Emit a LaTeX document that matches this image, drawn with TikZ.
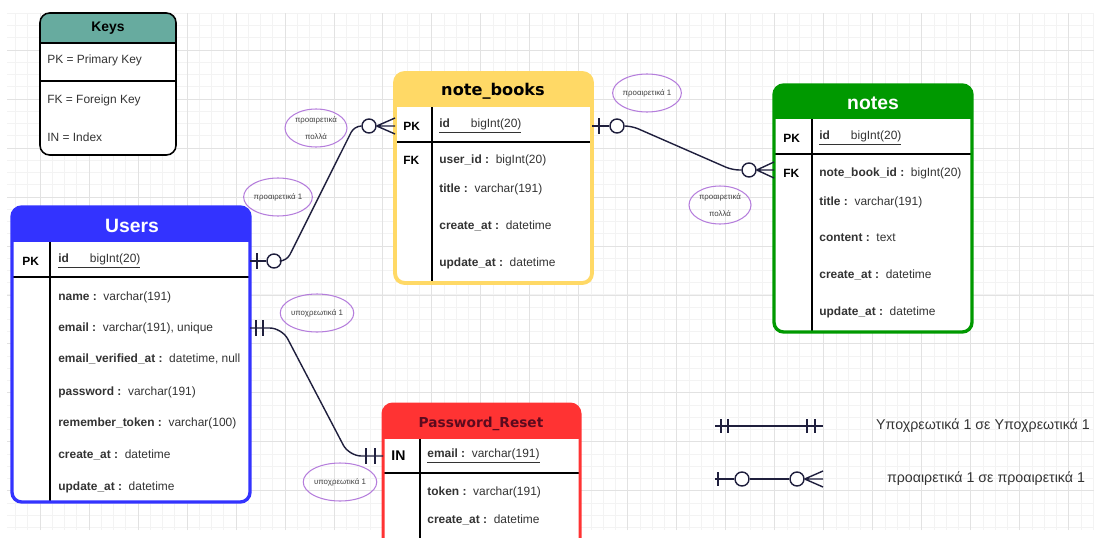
\documentclass[tikz,border=0pt]{standalone}
\usepackage{fontspec}
\setmainfont{Liberation Sans}
\newfontfamily\dejavu{DejaVu Sans}
\usetikzlibrary{shapes.geometric}

\definecolor{keysteal}{HTML}{67AB9F}
\definecolor{usersblue}{HTML}{3333FF}
\definecolor{nbyellow}{HTML}{FFD966}
\definecolor{notesgreen}{HTML}{009900}
\definecolor{resetred}{HTML}{FF3333}
\definecolor{resettitle}{HTML}{5C0A1E}
\definecolor{relline}{HTML}{1F1F3D}
\definecolor{tagviolet}{HTML}{B57EDC}
\definecolor{textgray}{HTML}{333333}
\definecolor{gridminor}{HTML}{F3F3F3}
\definecolor{gridmajor}{HTML}{E2E2E2}

\tikzset{
  field/.style={anchor=west,inner sep=0pt,text=textgray,font=\fontsize{6.8}{8}\selectfont},
  keycol/.style={anchor=west,inner sep=0pt,font=\fontsize{6.8}{8}\selectfont\bfseries},
  title/.style={inner sep=0pt,font=\fontsize{11}{13}\selectfont\bfseries},
  tag/.style={ellipse,draw=tagviolet,line width=0.6pt,minimum width=1.24cm,minimum height=0.76cm,
    inner sep=0pt,align=center,text=black!75,font=\fontsize{4.5}{10}\selectfont},
  ring/.style={circle,draw=relline,line width=0.8pt,fill=white,minimum size=0.28cm,inner sep=0pt},
  rel/.style={draw=relline,line width=0.8pt},
  legend/.style={inner sep=0pt,text=textgray,font=\fontsize{8.1}{9}\selectfont},
}

\begin{document}
\begin{tikzpicture}[x=0.02cm,y=-0.02cm]
  \useasboundingbox (0,0) rectangle (1094,537);
  \clip (0,0) rectangle (1094,537);

  % background grid
  \begin{scope}[shift={(40,1)}]
    \draw[gridminor,line width=0.5pt,step=0.245cm] (-33,12) grid (1054,529);
    \draw[gridmajor,line width=0.5pt,step=0.98cm] (-33,12) grid (1054,529);
  \end{scope}

  % Keys
  \begin{scope}
    \clip[rounded corners=5.5pt] (40,13) rectangle (176,155);
    \fill[white] (40,13) rectangle (176,155);
    \fill[keysteal] (40,13) rectangle (176,43);
    \draw[line width=0.8pt] (40,43) -- (176,43) (40,81) -- (176,81);
  \end{scope}
  \draw[line width=0.9pt,rounded corners=5.5pt] (40,13) rectangle (176,155);
  \node[title,font=\fontsize{7.9}{9}\selectfont\bfseries] (keys-title) at (108,28) {Keys};
  \node[field] (keys-pk) at (47,60) {PK = Primary Key};
  \node[field] (keys-fk) at (47,100) {FK = Foreign Key};
  \node[field] (keys-in) at (47,137) {IN = Index};

  % note_books
  \begin{scope}
    \clip[rounded corners=5.5pt] (395,73) rectangle (592,283);
    \fill[white] (395,73) rectangle (592,283);
    \fill[nbyellow] (395,73) rectangle (592,107);
    \draw[line width=1pt] (395,142) -- (592,142);
    \draw[line width=0.8pt] (432,107) -- (432,283);
  \end{scope}
  \draw[nbyellow,line width=2.2pt,rounded corners=5.5pt] (395,73) rectangle (592,283);
  \node[title,font=\dejavu\fontsize{9.2}{11}\selectfont\bfseries] (nb-title) at (493,91) {note\_books};
  \node[keycol] (nb-pk) at (403,126) {PK};
  \node[field] (nb-id) at (439,126) {\underline{\textbf{id}\hspace{0.42cm}bigInt(20)}};
  \node[keycol] (nb-fk) at (403,160) {FK};
  \node[field] (nb-user) at (439,160) {\textbf{user\_id :}\ \ bigInt(20)};
  \node[field] (nb-name) at (439,189) {\textbf{title :}\ \ varchar(191)};
  \node[field] (nb-create) at (439,226) {\textbf{create\_at :}\ \ datetime};
  \node[field] (nb-update) at (439,263) {\textbf{update\_at :}\ \ datetime};

  % notes
  \begin{scope}
    \clip[rounded corners=5.5pt] (774,85) rectangle (972,332);
    \fill[white] (774,85) rectangle (972,332);
    \fill[notesgreen] (774,85) rectangle (972,119);
    \draw[line width=1pt] (774,154) -- (972,154);
    \draw[line width=0.8pt] (812,119) -- (812,332);
  \end{scope}
  \draw[notesgreen,line width=1.9pt,rounded corners=5.5pt] (774,85) rectangle (972,332);
  \node[title,text=white] (notes-title) at (873,103) {notes};
  \node[keycol] (notes-pk) at (783,138) {PK};
  \node[field] (notes-id) at (819,138) {\underline{\textbf{id}\hspace{0.42cm}bigInt(20)}};
  \node[keycol] (notes-fk) at (783,173) {FK};
  \node[field] (notes-nb) at (819,173) {\textbf{note\_book\_id :}\ \ bigInt(20)};
  \node[field] (notes-name) at (819,202) {\textbf{title :}\ \ varchar(191)};
  \node[field] (notes-content) at (819,238) {\textbf{content :}\ \ text};
  \node[field] (notes-create) at (819,275) {\textbf{create\_at :}\ \ datetime};
  \node[field] (notes-update) at (819,312) {\textbf{update\_at :}\ \ datetime};

  % Users
  \begin{scope}
    \clip[rounded corners=5.5pt] (12,207) rectangle (250,502);
    \fill[white] (12,207) rectangle (250,502);
    \fill[usersblue] (12,207) rectangle (250,242);
    \draw[line width=1pt] (12,277) -- (250,277);
    \draw[line width=0.8pt] (50,242) -- (50,502);
  \end{scope}
  \draw[usersblue,line width=1.9pt,rounded corners=5.5pt] (12,207) rectangle (250,502);
  \node[title,text=white] (users-title) at (132,226) {Users};
  \node[keycol] (users-pk) at (22,261) {PK};
  \node[field] (users-id) at (58,261) {\underline{\textbf{id}\hspace{0.42cm}bigInt(20)}};
  \node[field] (users-name) at (58,297) {\textbf{name :}\ \ varchar(191)};
  \node[field] (users-email) at (58,328) {\textbf{email :}\ \ varchar(191), unique};
  \node[field] (users-verified) at (58,359) {\textbf{email\_verified\_at :}\ \ datetime, null};
  \node[field] (users-password) at (58,392) {\textbf{password :}\ \ varchar(191)};
  \node[field] (users-token) at (58,423) {\textbf{remember\_token :}\ \ varchar(100)};
  \node[field] (users-create) at (58,455) {\textbf{create\_at :}\ \ datetime};
  \node[field] (users-update) at (58,487) {\textbf{update\_at :}\ \ datetime};

  % Password_Reset
  \begin{scope}
    \clip[rounded corners=5.5pt] (383,404) rectangle (580,560);
    \fill[white] (383,404) rectangle (580,560);
    \fill[resetred] (383,404) rectangle (580,439);
    \draw[line width=1pt] (383,473) -- (580,473);
    \draw[line width=0.8pt] (420,439) -- (420,560);
  \end{scope}
  \draw[resetred,line width=1.7pt,rounded corners=5.5pt] (383,404) rectangle (580,560);
  \node[title,text=resettitle,font=\dejavu\fontsize{7.8}{9}\selectfont\bfseries] (reset-title) at (481,424) {Password\_Reset};
  \node[keycol,font=\fontsize{8}{9}\selectfont\bfseries] (reset-in) at (391,456) {IN};
  \node[field] (reset-email) at (427,456) {\underline{\textbf{email :}\ \ varchar(191)}};
  \node[field] (reset-token) at (427,492) {\textbf{token :}\ \ varchar(191)};
  \node[field] (reset-create) at (427,520) {\textbf{create\_at :}\ \ datetime};

  % edge points on the tables
  \coordinate (users-id-e) at (250,261);
  \coordinate (users-email-e) at (250,328);
  \coordinate (nb-pk-w) at (395,126);
  \coordinate (nb-id-e) at (592,126);
  \coordinate (notes-fk-w) at (774,170);
  \coordinate (reset-in-w) at (383,456);

  % Users -- note_books
  \node[ring] (ringA1) at (274,261) {};
  \node[ring] (ringA2) at (369,126) {};
  \draw[rel] (users-id-e) -- (ringA1);
  \draw[rel] ([shift={(7,-8)}]users-id-e) -- ([shift={(7,8)}]users-id-e);
  \draw[rel,rounded corners=4pt] (ringA1.east) -- ++(5,0) -- ([shift={(-7,0)}]ringA2.west) -- (ringA2.west);
  \draw[rel] (ringA2.east) -- (nb-pk-w)
    (ringA2.east) -- ([shift={(0,-8)}]nb-pk-w)
    (ringA2.east) -- ([shift={(0,8)}]nb-pk-w);

  % note_books -- notes
  \node[ring] (ringB1) at (617,126) {};
  \node[ring] (ringB2) at (749,170) {};
  \draw[rel] (nb-id-e) -- (ringB1);
  \draw[rel] ([shift={(7,-8)}]nb-id-e) -- ([shift={(7,8)}]nb-id-e);
  \draw[rel,rounded corners=4pt] (ringB1.east) -- ++(7,0) -- ([shift={(-9,0)}]ringB2.west) -- (ringB2.west);
  \draw[rel] (ringB2.east) -- (notes-fk-w)
    (ringB2.east) -- ([shift={(0,-8)}]notes-fk-w)
    (ringB2.east) -- ([shift={(0,8)}]notes-fk-w);

  % Users -- Password_Reset
  \draw[rel,rounded corners=7pt] (users-email-e) -- ++(32,0) -- ([shift={(-34,0)}]reset-in-w) -- (reset-in-w);
  \draw[rel] ([shift={(6,-8)}]users-email-e) -- ([shift={(6,8)}]users-email-e)
    ([shift={(13,-8)}]users-email-e) -- ([shift={(13,8)}]users-email-e);
  \draw[rel] ([shift={(-17,-8)}]reset-in-w) -- ([shift={(-17,8)}]reset-in-w)
    ([shift={(-8,-8)}]reset-in-w) -- ([shift={(-8,8)}]reset-in-w);

  % cardinality tags
  \node[tag] (tag-nb-many) at (316,128) {προαιρετικά\\πολλά};
  \node[tag] (tag-users-one) at (278,197) {προαιρετικά 1};
  \node[tag] (tag-nb-one) at (647,93) {προαιρετικά 1};
  \node[tag] (tag-notes-many) at (720,205) {προαιρετικά\\πολλά};
  \node[tag] (tag-users-must) at (317,313) {υποχρεωτικά 1};
  \node[tag] (tag-reset-must) at (340,482) {υποχρεωτικά 1};

  % legend
  \coordinate (lg-one-l) at (715,426);
  \coordinate (lg-one-r) at (823,426);
  \draw[rel] (lg-one-l) -- (lg-one-r);
  \draw[rel] ([shift={(6,-7)}]lg-one-l) -- ([shift={(6,7)}]lg-one-l)
    ([shift={(13,-7)}]lg-one-l) -- ([shift={(13,7)}]lg-one-l)
    ([shift={(-16,-7)}]lg-one-r) -- ([shift={(-16,7)}]lg-one-r)
    ([shift={(-8,-7)}]lg-one-r) -- ([shift={(-8,7)}]lg-one-r);
  \node[legend] (lg-one-txt) at (983,426) {Υποχρεωτικά 1 σε Υποχρεωτικά 1};

  \coordinate (lg-opt-l) at (715,479);
  \coordinate (lg-opt-r) at (823,479);
  \node[ring] (ringL1) at (742,479) {};
  \node[ring] (ringL2) at (797,479) {};
  \draw[rel] (lg-opt-l) -- (ringL1) (ringL1) -- (ringL2);
  \draw[rel] ([shift={(3,-7)}]lg-opt-l) -- ([shift={(3,7)}]lg-opt-l);
  \draw[rel] (ringL2.east) -- (lg-opt-r)
    (ringL2.east) -- ([shift={(0,-8)}]lg-opt-r)
    (ringL2.east) -- ([shift={(0,8)}]lg-opt-r);
  \node[legend] (lg-opt-txt) at (986,479) {προαιρετικά 1 σε προαιρετικά 1};
\end{tikzpicture}
\end{document}
